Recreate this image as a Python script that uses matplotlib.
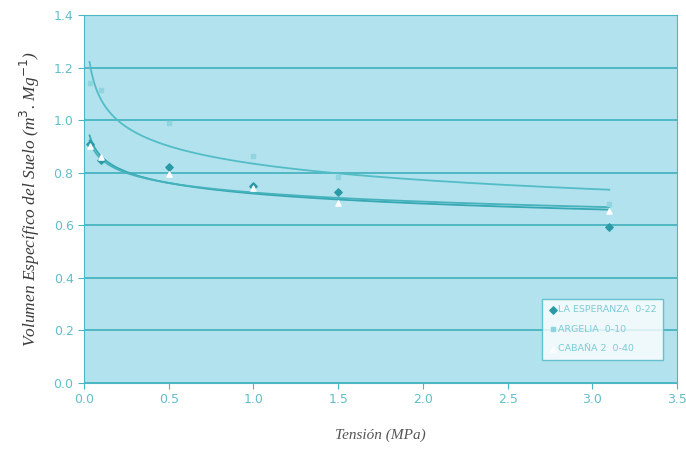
import numpy as np
import matplotlib.pyplot as plt

# Tension (MPa) and specific soil volume (m3/Mg)
tension = [0.033, 0.1, 0.5, 1.0, 1.5, 3.1]
esperanza = [0.91, 0.85, 0.82, 0.75, 0.725, 0.595]
argelia = [1.14, 1.115, 0.99, 0.865, 0.785, 0.68]
cabana = [0.90, 0.86, 0.795, 0.74, 0.685, 0.655]

labels = ['LA ESPERANZA  0-22', 'ARGELIA  0-10', 'CABAÑA 2  0-40']

teal = '#4cb8c3'
tick_col = '#62bfc9'


def power_fit(x, y):
    # Excel-style power trendline, fitted in log-log space
    b, lna = np.polyfit(np.log(x), np.log(y), 1)
    xs = np.linspace(min(x), max(x), 300)
    return xs, np.exp(lna) * xs ** b


fig = plt.figure(figsize=(6.86, 4.54), dpi=100)
ax = fig.add_axes([0.1224, 0.1564, 0.8646, 0.8106])
ax.set_facecolor('#b2e2ed')

for y, lc in [(argelia, '#52bdc7'), (esperanza, '#35a8b3'), (cabana, '#45b2bc')]:
    xs, ys = power_fit(tension, y)
    ax.plot(xs, ys, color=lc, lw=1.3, zorder=3)

ax.scatter(tension, esperanza, marker='D', s=14, color='#2a9aa6', label=labels[0], zorder=4)
ax.scatter(tension, argelia, marker='s', s=12, color='#8fd4de', label=labels[1], zorder=4)
ax.scatter(tension, cabana, marker='^', s=14, color='white', label=labels[2], zorder=4)

ax.set_xlim(0, 3.5)
ax.set_ylim(0, 1.4)
ax.set_xticks(np.arange(0, 3.51, 0.5))
ax.set_yticks(np.arange(0, 1.41, 0.2))
ax.set_xticklabels([f'{v:.1f}' for v in np.arange(0, 3.51, 0.5)])
ax.set_yticklabels([f'{v:.1f}' for v in np.arange(0, 1.41, 0.2)])
ax.tick_params(colors=teal, labelcolor=tick_col, labelsize=9, length=4, direction='out')
ax.yaxis.grid(True, color='#3fb0bc', lw=1.2)
ax.set_axisbelow(True)
for s in ax.spines.values():
    s.set_color(teal)

ax.set_ylabel('Volumen Específico del Suelo (m$^3$. Mg$^{-1}$)', family='Liberation Serif',
              style='italic', color='#3c3c3c', fontsize=12.5, labelpad=8)
ax.set_xlabel('Tensión (MPa)', family='Liberation Serif', style='italic',
              color='#555555', fontsize=11, labelpad=16)

leg = ax.legend(loc='lower right', bbox_to_anchor=(0.985, 0.05), fontsize=6.8,
                frameon=True, fancybox=False, handletextpad=0.2, borderpad=0.7,
                labelspacing=1.1, handlelength=0.8)
leg.get_frame().set_edgecolor(teal)
leg.get_frame().set_facecolor('white')
for t in leg.get_texts():
    t.set_color('#7ccbd4')

fig.savefig('out.png', dpi=100)
